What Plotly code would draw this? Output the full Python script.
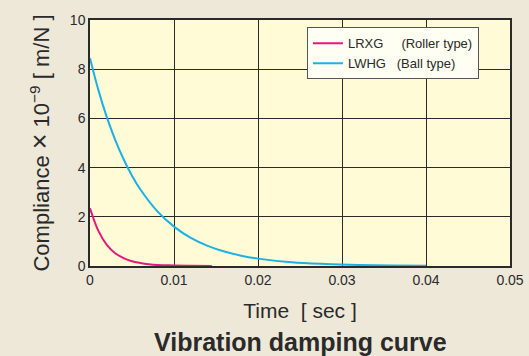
import plotly.graph_objects as go

# Data
t_roller = [0, 0.001, 0.002, 0.003, 0.004, 0.005, 0.006, 0.007, 0.008, 0.009, 0.010, 0.012, 0.0145]
c_roller = [2.35, 1.43, 0.86, 0.52, 0.32, 0.19, 0.12, 0.07, 0.04, 0.03, 0.02, 0.01, 0.0]

t_ball = [0, 0.001, 0.002, 0.003, 0.004, 0.005, 0.006, 0.008, 0.010, 0.012, 0.014, 0.016,
          0.018, 0.020, 0.024, 0.028, 0.032, 0.036, 0.040]
c_ball = [8.45, 7.15, 6.05, 5.13, 4.34, 3.67, 3.11, 2.23, 1.60, 1.14, 0.82, 0.59,
          0.42, 0.30, 0.15, 0.08, 0.04, 0.02, 0.01]

x_ticks = [0, 0.01, 0.02, 0.03, 0.04, 0.05]
x_tick_labels = ["0", "0.01", "0.02", "0.03", "0.04", "0.05"]
y_ticks = [0, 2, 4, 6, 8, 10]

NB = "\u00a0"
fig = go.Figure()
fig.add_trace(go.Scatter(x=t_roller, y=c_roller, mode="lines",
                         name="LRXG" + NB * 5 + "(Roller type)",
                         line=dict(color="#E8177F", width=2, shape="spline")))
fig.add_trace(go.Scatter(x=t_ball, y=c_ball, mode="lines",
                         name="LWHG" + NB * 3 + "(Ball type)",
                         line=dict(color="#1BB1E7", width=2, shape="spline")))

font_family = "Liberation Sans, Arial, sans-serif"
fig.update_layout(
    width=529, height=356,
    margin=dict(l=90, r=19, t=20, b=90, autoexpand=False),
    paper_bgcolor="#EEE8D9",
    plot_bgcolor="#FFFBD6",
    font=dict(family=font_family, color="#2a2a2a", size=14),
    showlegend=True,
    legend=dict(x=0.926, y=0.97, xanchor="right", yanchor="top",
                bgcolor="#FFFEF2", bordercolor="#555555", borderwidth=1,
                font=dict(size=13, color="#2a2a2a"), tracegroupgap=0,
                itemwidth=30),
    xaxis=dict(range=[0, 0.05], tickvals=x_ticks, ticktext=x_tick_labels,
               automargin=False,
               showgrid=True, gridcolor="#2a2a2a", gridwidth=1.3,
               showline=True, linecolor="#2a2a2a", linewidth=1.5, mirror=True,
               zeroline=False, ticks="", tickfont=dict(size=14),
               title=dict(text="Time" + NB * 2 + "[ sec ]", font=dict(size=21), standoff=17)),
    yaxis=dict(range=[0, 10], tickvals=y_ticks,
               automargin=False,
               showgrid=True, gridcolor="#2a2a2a", gridwidth=1.3,
               showline=True, linecolor="#2a2a2a", linewidth=1.5, mirror=True,
               zeroline=False, ticks="", tickfont=dict(size=14),
               title=dict(text="Compliance <span style='font-size:27px'>×</span> 10<sup>−9</sup> [ m/N ]",
                          font=dict(size=22), standoff=14)),
)
fig.add_annotation(text="<b>Vibration damping curve</b>", xref="paper", yref="paper",
                   x=0.5, y=-0.307, xanchor="center", yanchor="middle", showarrow=False,
                   font=dict(size=25, color="#2a2a2a"))

fig.write_html("out.html", config={"displayModeBar": False},
               post_script="document.body.style.margin='0';document.body.style.background='#EEE8D9';")
